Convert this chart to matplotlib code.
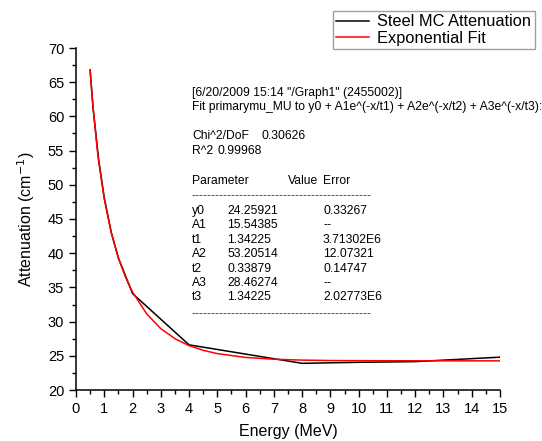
import matplotlib
matplotlib.use("Agg")
import matplotlib.pyplot as plt
from matplotlib.ticker import MultipleLocator

plt.rcParams['font.family'] = ['Liberation Sans', 'DejaVu Sans']

# Data
energy = [0.5, 0.6, 0.8, 1.0, 1.25, 1.5, 2.0, 4.0, 8.0, 10.0, 12.0, 15.0]
atten = [66.8, 61.4, 53.7, 48.1, 43.0, 39.3, 34.1, 26.6, 23.9, 24.05, 24.15, 24.8]

fit_x = [0.5, 0.6, 0.75, 0.8, 1.0, 1.25, 1.5, 1.75, 2.0, 2.5, 3.0, 3.5, 4.0, 4.5,
         5.0, 6.0, 7.0, 8.0, 9.0, 10.0, 12.0, 15.0]
fit_y = [66.74, 61.46, 55.24, 53.53, 47.93, 42.93, 39.29, 36.51, 34.32, 31.13,
         28.97, 27.50, 26.49, 25.80, 25.32, 24.76, 24.50, 24.37, 24.31, 24.29,
         24.27, 24.26]

header_lines = ['[6/20/2009 15:14 "/Graph1" (2455002)]',
                'Fit primarymu_MU to y0 + A1e^(-x/t1) + A2e^(-x/t2) + A3e^(-x/t3):']
stats = [("Chi^2/DoF", "0.30626"), ("R^2", "0.99968")]
param_names = ["y0", "A1", "t1", "A2", "t2", "A3", "t3"]
param_values = ["24.25921", "15.54385", "1.34225", "53.20514", "0.33879", "28.46274", "1.34225"]
param_errors = ["0.33267", "--", "3.71302E6", "12.07321", "0.14747", "--", "2.02773E6"]

W, H = 542, 441
fig = plt.figure(figsize=(W / 100, H / 100), dpi=100)
ax = fig.add_axes([76 / W, 1 - 390 / H, (500 - 76) / W, (390 - 48) / H])

ax.plot(energy, atten, color='black', lw=1.1, label='Steel MC Attenuation')
ax.plot(fit_x, fit_y, color='red', lw=1.1, label='Exponential Fit')

ax.set_xlim(0, 15)
ax.set_ylim(20, 70)
ax.xaxis.set_major_locator(MultipleLocator(1))
ax.xaxis.set_minor_locator(MultipleLocator(0.5))
ax.yaxis.set_major_locator(MultipleLocator(5))
ax.yaxis.set_minor_locator(MultipleLocator(2.5))
ax.tick_params(which='major', direction='out', length=5, width=1, labelsize=10.5, colors='black')
ax.tick_params(which='minor', direction='out', length=3, width=1)
for s in ['top', 'right']:
    ax.spines[s].set_visible(False)
for s in ['left', 'bottom']:
    ax.spines[s].set_linewidth(1.1)

ax.set_xlabel('Energy (MeV)', fontsize=11.5, labelpad=6)
ax.set_ylabel('Attenuation (cm$^{-1}$)', fontsize=11.5, labelpad=8)

leg = fig.legend(loc='upper left', bbox_to_anchor=(333 / W, 1 - 11 / H), fontsize=11.8,
                 frameon=True, fancybox=False, handlelength=2.0, borderpad=0.2,
                 labelspacing=0.1, handletextpad=0.5, borderaxespad=0)
leg.get_frame().set_edgecolor('#888888')
leg.get_frame().set_linewidth(1.0)


def ftext(px, py, s, **kw):
    fig.text(px / W, 1 - py / H, s, fontsize=8.7, va='center', ha='left', **kw)


ftext(192, 93, header_lines[0])
ftext(192, 107, header_lines[1])
ftext(192, 136, stats[0][0])
ftext(262, 136, stats[0][1])
ftext(192, 151, stats[1][0])
ftext(218, 151, stats[1][1])
ftext(192, 181, "Parameter")
ftext(288, 181, "Value")
ftext(323, 181, "Error")
dash = "-" * 45
ftext(192, 196, dash, color='#444444')
for i, (n, v, e) in enumerate(zip(param_names, param_values, param_errors)):
    y = 211 + i * 14.4
    ftext(192, y, n)
    ftext(227, y, v)
    ftext(323, y, e)
ftext(192, 314, dash, color='#444444')

fig.savefig('out.png', dpi=100)
